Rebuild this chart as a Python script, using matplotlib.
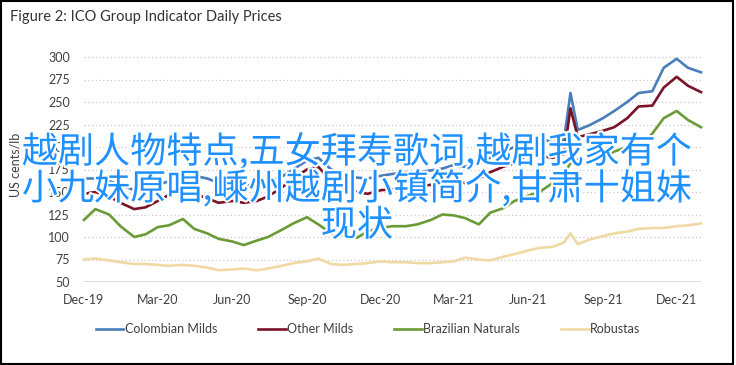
import pandas as pd
import matplotlib.pyplot as plt
import matplotlib.dates as mdates
import matplotlib.patheffects as pe
from matplotlib.patches import Rectangle

# ICO group indicator prices, US cents/lb (~semi-monthly)
dates = pd.to_datetime([
    "2019-12-01", "2019-12-15", "2020-01-01", "2020-01-15", "2020-02-01", "2020-02-15",
    "2020-03-01", "2020-03-15", "2020-04-01", "2020-04-15", "2020-05-01", "2020-05-15",
    "2020-06-01", "2020-06-15", "2020-07-01", "2020-07-15", "2020-08-01", "2020-08-15",
    "2020-09-01", "2020-09-15", "2020-10-01", "2020-10-15", "2020-11-01", "2020-11-15",
    "2020-12-01", "2020-12-15", "2021-01-01", "2021-01-15", "2021-02-01", "2021-02-15",
    "2021-03-01", "2021-03-15", "2021-04-01", "2021-04-15", "2021-05-01", "2021-05-15",
    "2021-06-01", "2021-06-15", "2021-07-01", "2021-07-15", "2021-07-23", "2021-08-01",
    "2021-08-15", "2021-09-01", "2021-09-15", "2021-10-01", "2021-10-15", "2021-11-01",
    "2021-11-15", "2021-12-01", "2021-12-15", "2021-12-31",
])

colombian = [165, 165, 162, 158, 152, 153, 158, 162, 170, 168, 165, 160,
             158, 157, 158, 160, 167, 175, 185, 188, 175, 170, 166, 165,
             168, 170, 172, 172, 174, 176, 180, 178, 182, 188, 195, 200,
             207, 210, 205, 208, 260, 219, 224, 232, 240, 250, 260, 262,
             288, 298, 288, 283]
other = [148, 150, 145, 138, 131, 133, 140, 147, 152, 148, 143, 138,
         140, 138, 140, 145, 155, 165, 175, 178, 162, 155, 150, 148,
         152, 153, 155, 156, 158, 160, 162, 160, 165, 172, 178, 182,
         192, 190, 188, 192, 243, 211, 214, 218, 222, 232, 245, 246,
         266, 278, 268, 261]
brazilian = [119, 131, 125, 112, 100, 103, 111, 113, 120, 109, 104, 98,
             95, 91, 96, 100, 108, 115, 122, 114, 104, 102, 99, 106,
             110, 112, 112, 114, 119, 125, 124, 121, 114, 127, 132, 140,
             146, 150, 160, 170, 182, 186, 183, 188, 195, 200, 198, 215,
             232, 240, 230, 222]
robustas = [75, 76, 74, 72, 70, 70, 69, 68, 69, 68, 66, 63,
            64, 65, 63, 65, 68, 71, 73, 76, 70, 69, 70, 71,
            73, 72, 72, 71, 71, 72, 73, 77, 75, 74, 78, 81,
            85, 88, 89, 94, 104, 92, 97, 101, 104, 106, 109, 110,
            110, 112, 113, 115]

series = [
    ("Colombian Milds", colombian, "#4a7ebb"),
    ("Other Milds", other, "#7a1228"),
    ("Brazilian Naturals", brazilian, "#6b9b37"),
    ("Robustas", robustas, "#f0d9a3"),
]
y_ticks = [50, 75, 100, 125, 150, 175, 200, 225, 250, 275, 300]
x_ticks = pd.to_datetime(["2019-12-01", "2020-03-01", "2020-06-01", "2020-09-01",
                          "2020-12-01", "2021-03-01", "2021-06-01", "2021-09-01",
                          "2021-12-01"])

plt.rcParams["font.family"] = ["Lato", "DejaVu Sans"]
txt = "#404040"

fig = plt.figure(figsize=(7.36, 3.65), dpi=100)
ax = fig.add_axes([84 / 736, 1 - 282 / 365, 617 / 736, 234 / 365])

for label, vals, color in series:
    ax.plot(dates, vals, color=color, lw=1.9, label=label, clip_on=False)

ax.set_xlim(dates[0], dates[-1])
ax.set_ylim(50, 310)
ax.set_yticks(y_ticks)
ax.set_xticks(x_ticks)
ax.xaxis.set_major_formatter(mdates.DateFormatter("%b-%y"))
ax.tick_params(length=0, labelsize=9, colors=txt)
ax.tick_params(axis="x", pad=9)
ax.tick_params(axis="y", pad=10)
for s in ax.spines.values():
    s.set_visible(False)
for v in y_ticks[1:]:
    ax.axhline(v, color="#c8c8c8", lw=0.9, ls=(0, (1, 2)), zorder=0)
ax.axhline(50, color="#d6d6d6", lw=1.2, zorder=0)
ax.set_ylabel("US cents/lb", fontsize=9, color=txt, labelpad=19)

ax.legend(loc="center", bbox_to_anchor=(0.5, 1 - 329 / 365), bbox_transform=fig.transFigure,
          ncol=4, frameon=False, fontsize=9, handlelength=2.2, handletextpad=0.1,
          columnspacing=3.3, labelcolor=txt)

fig.text(10 / 736, 1 - 17 / 365, "Figure 2: ICO Group Indicator Daily Prices",
         fontsize=10.5, color="#333333", va="center", ha="left")

# frame around the whole picture
fig.patches.append(Rectangle((0.002, 0.004), 0.994, 0.992, transform=fig.transFigure,
                             fill=False, ec="black", lw=1.5))

# overlaid caption text
lines = ["越剧人物特点,五女拜寿歌词,越剧我家有个",
         "小九妹原唱,嵊州越剧小镇简介,甘肃十姐妹",
         "现状"]
for i, line in enumerate(lines):
    fig.text(0.485, 1 - (152 + 37 * i) / 365, line, fontsize=26, color="#1e90ff",
             ha="center", va="center", family=["Noto Sans CJK SC", "DejaVu Sans"],
             path_effects=[pe.withStroke(linewidth=3, foreground="white")])

fig.savefig("out.png", dpi=100)
